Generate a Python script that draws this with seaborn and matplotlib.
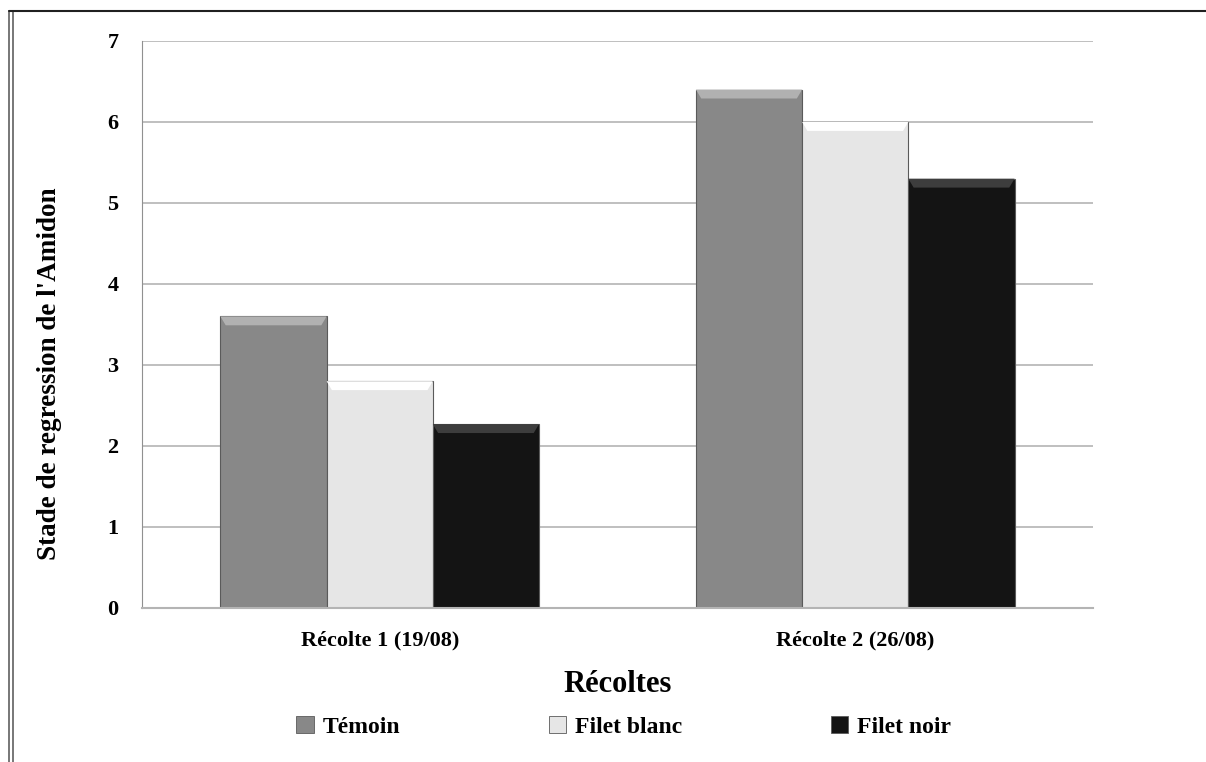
import pandas as pd
import matplotlib.pyplot as plt
import seaborn as sns
from matplotlib.lines import Line2D
from matplotlib.patches import Polygon
from matplotlib.colors import to_rgb

recoltes = ['Récolte 1 (19/08)', 'Récolte 2 (26/08)']
traitements = ['Témoin', 'Filet blanc', 'Filet noir']
temoin = [3.6, 6.4]
filet_blanc = [2.8, 6.0]
filet_noir = [2.27, 5.3]
couleurs = ['#888888', '#e6e6e6', '#141414']

rows = []
for t, vals in zip(traitements, [temoin, filet_blanc, filet_noir]):
    for r, v in zip(recoltes, vals):
        rows.append({'Récolte': r, 'Traitement': t, 'Stade': v})
df = pd.DataFrame(rows)

sns.set_style('white')
plt.rcParams['font.family'] = ['Liberation Serif', 'DejaVu Serif']
plt.rcParams['text.color'] = 'black'
plt.rcParams['axes.labelcolor'] = 'black'
plt.rcParams['xtick.color'] = 'black'
plt.rcParams['ytick.color'] = 'black'

fig = plt.figure(figsize=(12.06, 7.62), dpi=100)
ax = fig.add_axes([0.1177, 0.2021, 0.7886, 0.7441])

sns.barplot(data=df, x='Récolte', y='Stade', hue='Traitement',
            palette=couleurs, width=0.67, saturation=1, ax=ax,
            edgecolor='#5a5a5a', linewidth=0.8)

# petit effet biseau en haut des barres (comme dans Excel)
for p in list(ax.patches):
    x0, w, top = p.get_x(), p.get_width(), p.get_height()
    r, g, b = to_rgb(p.get_facecolor())
    clair = tuple(min(1, c + 0.16) for c in (r, g, b))
    dx, dy = w * 0.05, 0.11
    ax.add_patch(Polygon([(x0, top), (x0 + w, top), (x0 + w - dx, top - dy), (x0 + dx, top - dy)],
                         closed=True, facecolor=clair, edgecolor='none', zorder=p.get_zorder() + 0.1))

ax.set_ylim(0, 7)
ax.set_xlim(-0.5, 1.5)
ax.set_yticks(range(8))
ax.yaxis.grid(True, color='#b4b4b4', linewidth=1.2)
ax.set_axisbelow(True)
for s in ['top', 'right']:
    ax.spines[s].set_visible(False)
ax.spines['left'].set_color('#909090')
ax.spines['bottom'].set_color('#b4b4b4')
ax.spines['bottom'].set_linewidth(1.5)

ax.set_xticks([-0.5, 0.5, 1.5], minor=True)
ax.tick_params(axis='x', which='major', length=0, pad=16, labelsize=16)
ax.tick_params(axis='x', which='minor', length=5, color='#909090', direction='out')
ax.tick_params(axis='y', length=5, color='#909090', direction='out', pad=12, labelsize=16)
for lab in ax.get_yticklabels() + ax.get_xticklabels():
    lab.set_fontweight('bold')

ax.set_xlabel('Récoltes', fontsize=22, fontweight='bold', labelpad=14)
ax.set_ylabel("Stade de regression de l'Amidon", fontsize=19.5, fontweight='bold')
ax.yaxis.set_label_coords(-0.084, 0.414)

ax.get_legend().remove()
handles = [plt.Rectangle((0, 0), 1, 1, facecolor=c, edgecolor='#5a5a5a', linewidth=0.6) for c in couleurs]
fig.legend(handles, traitements, loc='center', bbox_to_anchor=(0.517, 0.046), ncol=3,
           frameon=False, handlelength=0.75, handleheight=0.75, handletextpad=0.35,
           columnspacing=6.3, prop={'family': 'Liberation Serif', 'weight': 'bold', 'size': 17})

# cadre de la figure
fig.add_artist(Line2D([0.0075, 0.0075], [0, 0.986], color='#606060', linewidth=1.2))
fig.add_artist(Line2D([0.0105, 0.0105], [0, 0.986], color='#606060', linewidth=1.2))
fig.add_artist(Line2D([0.0075, 1.0], [0.986, 0.986], color='#202020', linewidth=1.5))

fig.savefig('out.png', dpi=100)
